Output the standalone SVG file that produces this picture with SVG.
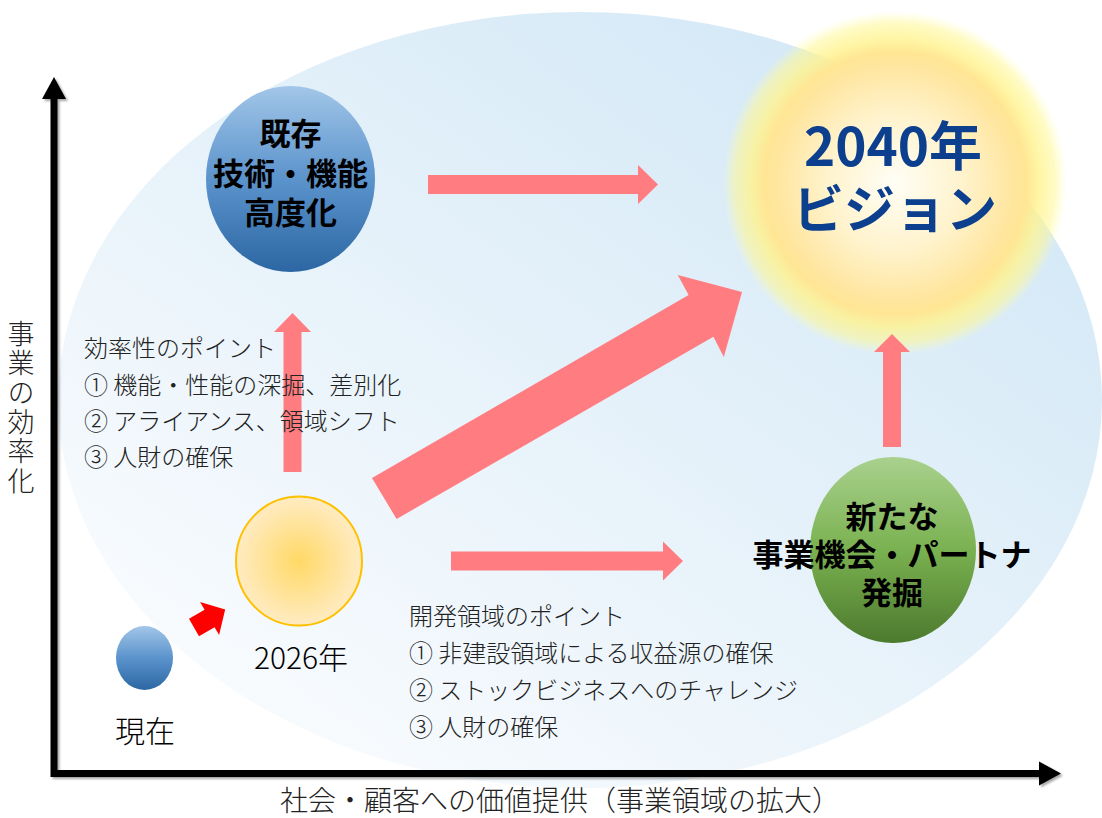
<svg xmlns="http://www.w3.org/2000/svg" width="1102" height="818" viewBox="0 0 1102 818">
  <defs>
    <linearGradient id="bgGrad" x1="0.85" y1="0.1" x2="0.1" y2="0.9">
      <stop offset="0" stop-color="#D3E8F6"/>
      <stop offset="1" stop-color="#FAFCFE"/>
    </linearGradient>
    <radialGradient id="sunGrad" cx="0.5" cy="0.5" r="0.5">
      <stop offset="0" stop-color="#FFFEF6"/>
      <stop offset="0.4" stop-color="#FFF3CC"/>
      <stop offset="0.68" stop-color="#FFE6A0"/>
      <stop offset="0.76" stop-color="#FFE594"/>
      <stop offset="0.84" stop-color="#FFF38E" stop-opacity="0.8"/>
      <stop offset="0.93" stop-color="#FFF795" stop-opacity="0.55"/>
      <stop offset="1" stop-color="#FFFFA8" stop-opacity="0"/>
    </radialGradient>
    <linearGradient id="blueGrad" x1="0" y1="0" x2="0" y2="1">
      <stop offset="0" stop-color="#A2C6E8"/>
      <stop offset="0.5" stop-color="#5B93CC"/>
      <stop offset="1" stop-color="#2C67A3"/>
    </linearGradient>
    <linearGradient id="greenGrad" x1="0" y1="0" x2="0" y2="1">
      <stop offset="0" stop-color="#A9D18E"/>
      <stop offset="0.5" stop-color="#7AB150"/>
      <stop offset="1" stop-color="#4C7A2E"/>
    </linearGradient>
    <radialGradient id="yellowGrad" cx="0.5" cy="0.5" r="0.5">
      <stop offset="0" stop-color="#FFD966"/>
      <stop offset="1" stop-color="#FFEBC2"/>
    </radialGradient>
    <filter id="shadow" x="-5%" y="-5%" width="110%" height="110%">
      <feDropShadow dx="2" dy="2" stdDeviation="0.8" flood-color="#000" flood-opacity="0.35"/>
    </filter>
    <style>
      .jp { font-family: "Noto Sans CJK JP", "Noto Sans", sans-serif; }
      .note { font-size: 24px; font-weight: 300; fill: #222; }
      .axislabel { font-weight: 300; fill: #222; }
      .nodeTxt { font-size: 31px; font-weight: bold; fill: #000; text-anchor: middle; }
      .plain { font-size: 30px; font-weight: 300; fill: #000; text-anchor: middle; }
      .pink { fill: #FF7C80; }
    </style>
  </defs>

  <!-- background area -->
  <ellipse id="background" cx="580" cy="400" rx="522" ry="388" fill="url(#bgGrad)"/>

  <!-- 2040 vision glow -->
  <g id="vision">
    <circle cx="895" cy="183" r="172" fill="url(#sunGrad)"/>
    <text class="jp" font-weight="bold" fill="#0D3F8F" text-anchor="middle"><tspan x="893" y="166" font-size="53">2040年</tspan><tspan x="895" y="228" font-size="51">ビジョン</tspan></text>
  </g>

  <!-- axes -->
  <g id="axes" filter="url(#shadow)">
    <path d="M54,99 V773.5 H1039" fill="none" stroke="#000" stroke-width="7" stroke-linejoin="miter"/>
    <polygon points="42,99 54,77 66,99" fill="#000"/>
    <polygon points="1039,761.5 1061,773.5 1039,785.5" fill="#000"/>
  </g>

  <!-- nodes -->
  <g id="existing">
    <ellipse cx="290.5" cy="179" rx="84.5" ry="93" fill="url(#blueGrad)"/>
    <text class="jp nodeTxt"><tspan x="290.5" y="145">既存</tspan><tspan x="290.5" y="185">技術・機能</tspan><tspan x="290.5" y="224">高度化</tspan></text>
  </g>

  <g id="now">
    <ellipse cx="144.5" cy="658" rx="28.5" ry="32" fill="url(#blueGrad)"/>
    <text class="jp plain" x="145" y="742">現在</text>
  </g>

  <g id="y2026">
    <ellipse cx="299" cy="561" rx="63" ry="64.5" fill="url(#yellowGrad)" stroke="#FFC000" stroke-width="2"/>
    <text class="jp plain" x="301" y="669">2026年</text>
  </g>

  <g id="newbiz">
    <ellipse cx="893" cy="550" rx="83" ry="93" fill="url(#greenGrad)"/>
  </g>

  <!-- connectors -->
  <g id="connectors">
    <polygon class="pink" points="428,175 638,175 638,165 658,184.5 638,204 638,194 428,194"/>
    <polygon class="pink" points="451,551.5 663,551.5 663,541.5 683,561 663,580.5 663,570.5 451,570.5"/>
    <polygon class="pink" points="283.5,472 283.5,332 274,332 292.5,313 311,332 301.5,332 301.5,472"/>
    <polygon class="pink" points="883,447 883,352 874,352 892,334 910,352 901,352 901,447"/>
    <polygon class="pink" points="372,478 688.6,295 677.8,275 742,292 723.8,357 713.4,336.7 396.6,519"/>
    <polygon fill="#FF0000" transform="translate(194,627.5) rotate(-30)" points="0,-10 18,-10 18,-19 36,0 18,19 18,10 0,10"/>
  </g>

  <!-- new business label (on top) -->
  <g id="newbiz-label">
    <text class="jp nodeTxt"><tspan x="892" y="528">新たな</tspan><tspan x="892" y="566">事業機会・パートナ</tspan><tspan x="892" y="604">発掘</tspan></text>
  </g>

  <!-- annotations -->
  <g id="efficiency-points" class="jp note">
    <text x="84" y="357">効率性のポイント</text>
    <text x="84" y="394">① 機能・性能の深掘、差別化</text>
    <text x="84" y="430">② アライアンス、領域シフト</text>
    <text x="84" y="466">③ 人財の確保</text>
  </g>

  <g id="development-points" class="jp note">
    <text x="409" y="625">開発領域のポイント</text>
    <text x="409" y="662">① 非建設領域による収益源の確保</text>
    <text x="409" y="699">② ストックビジネスへのチャレンジ</text>
    <text x="409" y="736">③ 人財の確保</text>
  </g>

  <!-- axis labels -->
  <text class="jp axislabel" x="280" y="811" font-size="28">社会・顧客への価値提供（事業領域の拡大）</text>
  <text class="jp axislabel" x="21" y="320" font-size="27" writing-mode="vertical-rl" letter-spacing="2.4">事業の効率化</text>
</svg>
